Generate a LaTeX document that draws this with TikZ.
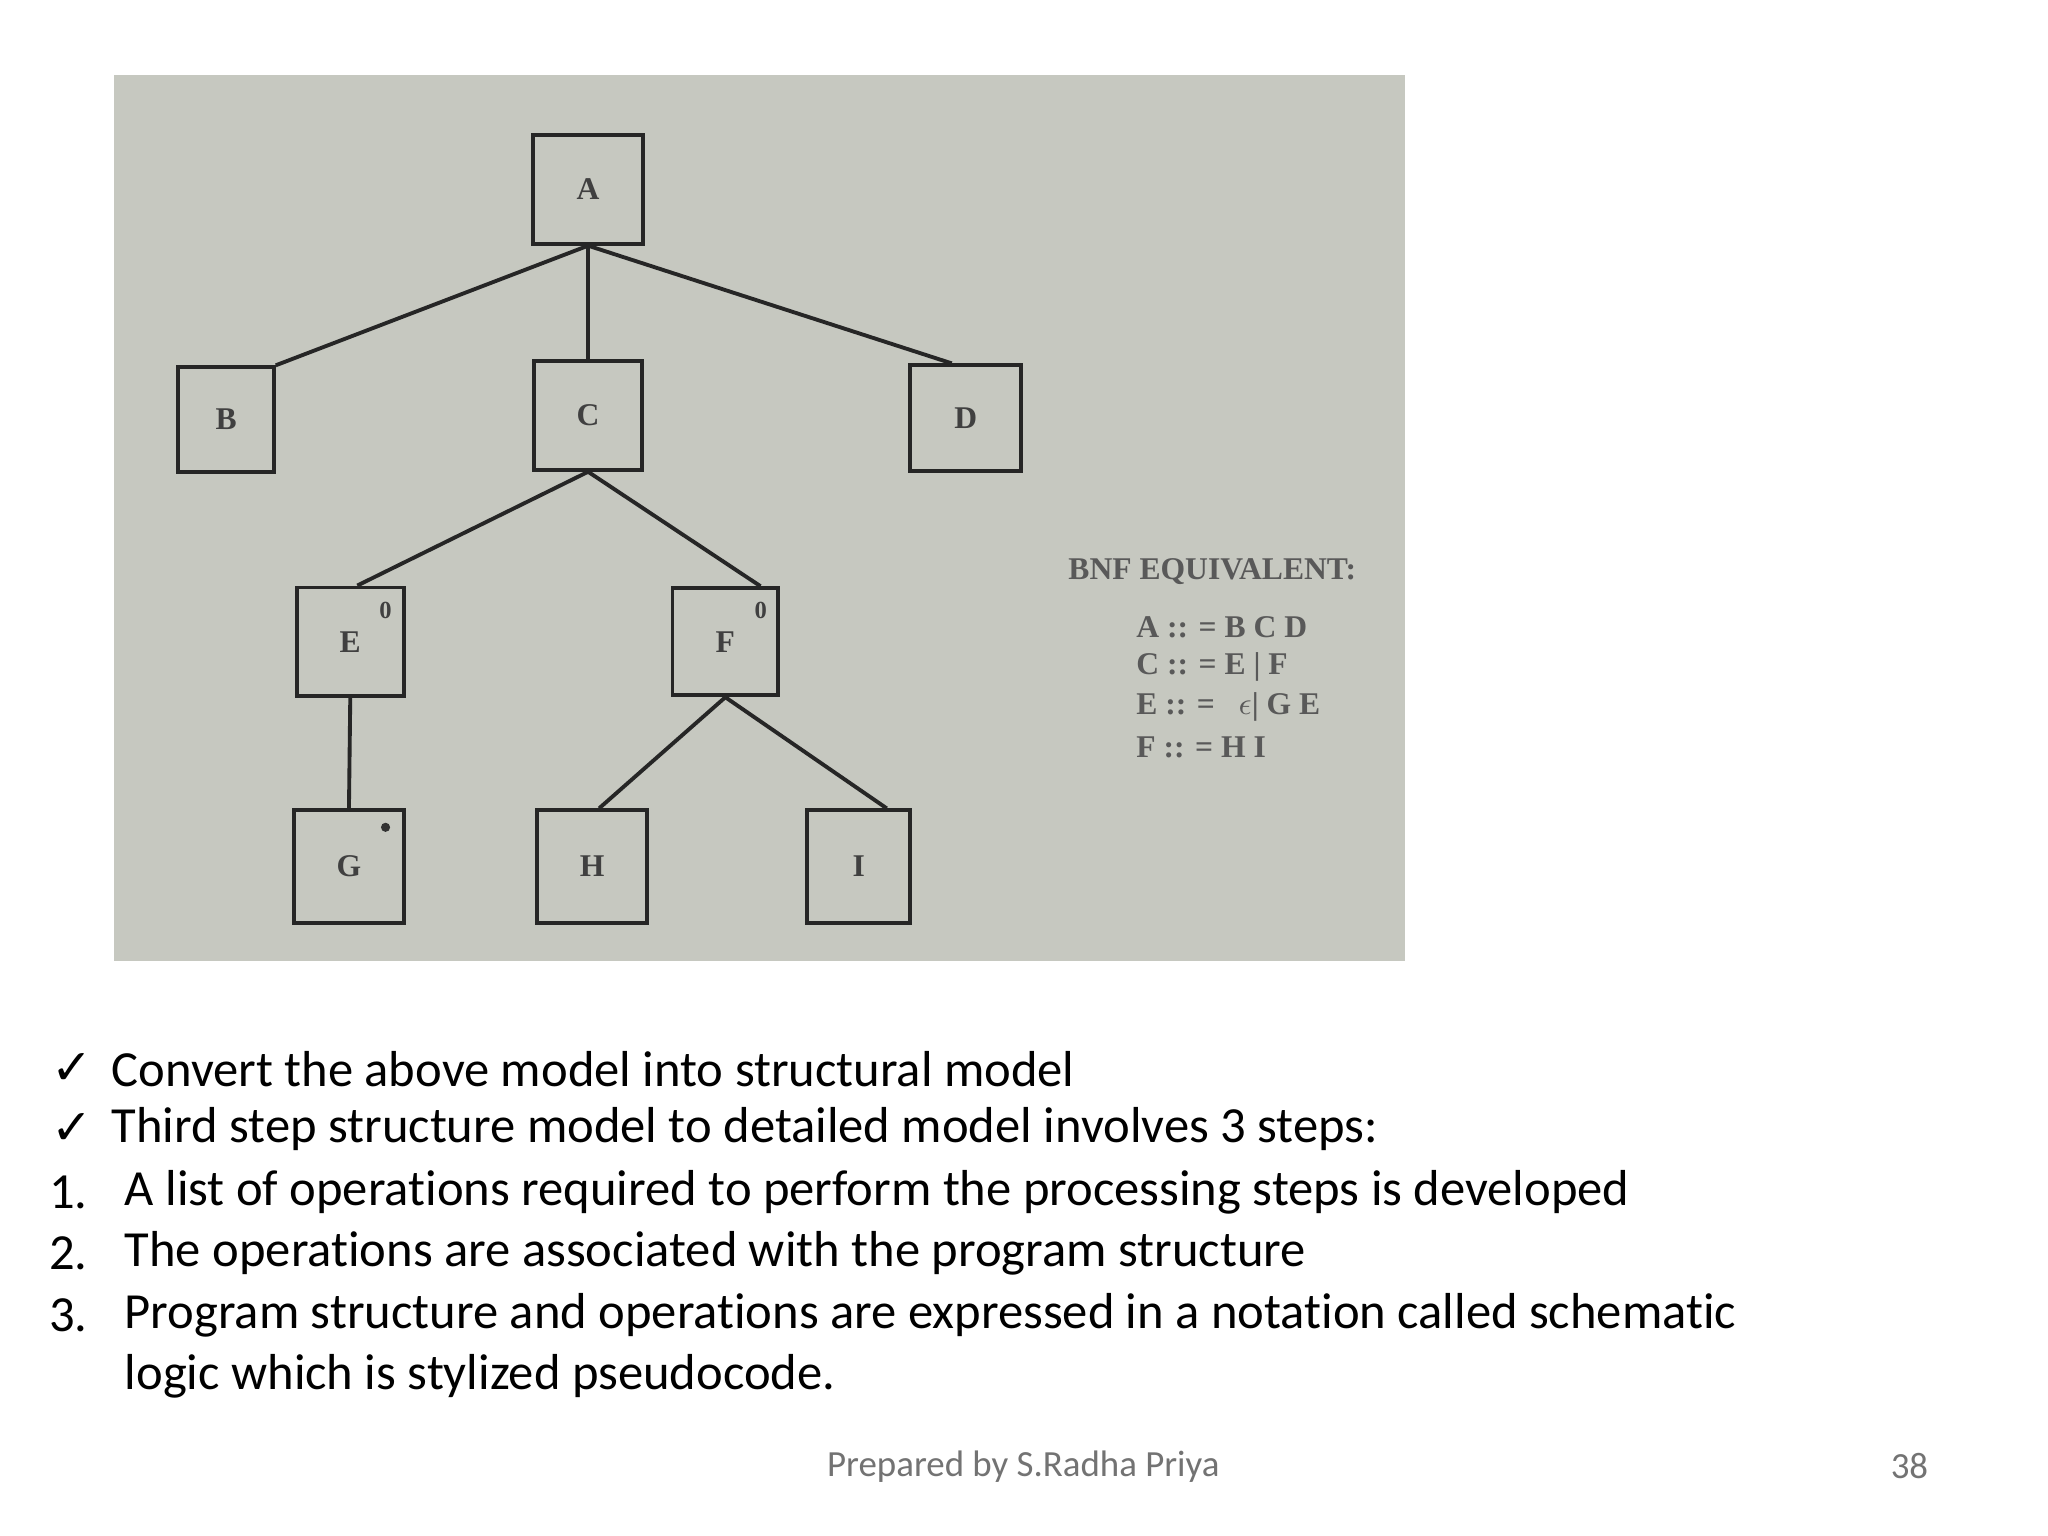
\documentclass[tikz,border=0pt]{standalone}
\usepackage{fontspec}
\setmainfont[Ligatures=NoCommon]{Carlito}
\newfontfamily\dejavu{DejaVu Sans}
\newfontfamily\serifbox{Liberation Serif}
\begin{document}
\begin{tikzpicture}[x=0.01307cm,y=-0.01307cm,
  bx/.style={draw=black!85,line width=1.1pt,inner sep=0pt,font=\serifbox\small\bfseries,text=black!75},
  ln/.style={draw=black!85,line width=1.1pt},
  bnf/.style={anchor=west,font=\serifbox\small\bfseries,text=black!65},
  txt/.style={anchor=west,font=\fontsize{14.4}{17}\selectfont,text=black}]
\useasboundingbox (0,0) rectangle (1567,1175);
\fill[white] (0,0) rectangle (1567,1175);
\fill[color={rgb,255:red,198;green,200;blue,192}] (87,57) rectangle (1075,735);
\node[bx,minimum width=84*0.01307cm,minimum height=83*0.01307cm] (A) at (450,145) {A};
\node[bx,minimum width=73*0.01307cm,minimum height=80*0.01307cm] (B) at (173,321) {B};
\node[bx,minimum width=83*0.01307cm,minimum height=83*0.01307cm] (C) at (450,318) {C};
\node[bx,minimum width=85*0.01307cm,minimum height=81*0.01307cm] (D) at (739,320) {D};
\node[bx,minimum width=82*0.01307cm,minimum height=83*0.01307cm] (E) at (268,491) {E};
\node[bx,minimum width=81*0.01307cm,minimum height=82*0.01307cm] (F) at (555,491) {F};
\node[bx,minimum width=84*0.01307cm,minimum height=86*0.01307cm] (G) at (267,663) {G};
\node[bx,minimum width=84*0.01307cm,minimum height=86*0.01307cm] (H) at (453,663) {H};
\node[bx,minimum width=79*0.01307cm,minimum height=86*0.01307cm] (I) at (657,663) {I};
\node[font=\serifbox\scriptsize\bfseries,text=black!75] (e0) at (295,467) {0};
\node[font=\serifbox\scriptsize\bfseries,text=black!75] (f0) at (582,467) {0};
\fill[black!80] (295,633) circle (3.5);
\draw[ln] (A.south) -- (B.north east);
\draw[ln] (A.south) -- (C.north);
\draw[ln] (A.south) -- ([xshift=-4]D.north);
\draw[ln] (C.south) -- ([xshift=2]E.north);
\draw[ln] (C.south) -- ([xshift=10]F.north);
\draw[ln] (E.south) -- (G.north);
\draw[ln] (F.south) -- ([xshift=2]H.north);
\draw[ln] (F.south) -- ([xshift=8]I.north);
\node[bnf] (bt) at (808,437) {BNF EQUIVALENT:};
\node[bnf] (b1) at (860,480) {A :: = B C D};
\node[bnf] (b2) at (860,510) {C :: = E | F};
\node[bnf] (b3) at (860,541) {E :: = \ \ $\epsilon$| G E};
\node[bnf] (b4) at (860,572) {F :: = H I};
\node[anchor=west,font=\dejavu\bfseries\fontsize{14}{15}\selectfont] (c1) at (30,818) {✓};
\node[anchor=west,font=\dejavu\bfseries\fontsize{14}{15}\selectfont] (c2) at (30,864) {✓};
\node[txt] (t1) at (76,818) {Convert the above model into structural model};
\node[txt] (t2) at (76,864) {Third step structure model to detailed model involves 3 steps:};
\node[txt] (n1) at (28,912) {1.};
\node[txt] (n2) at (28,959) {2.};
\node[txt] (n3) at (28,1006) {3.};
\node[txt] (t3) at (86,912) {A list of operations required to perform the processing steps is developed};
\node[txt] (t4) at (86,959) {The operations are associated with the program structure};
\node[txt] (t5) at (86,1006) {Program structure and operations are expressed in a notation called schematic};
\node[txt] (t6) at (86,1053) {logic which is stylized pseudocode.};
\node[font=\fontsize{10.5}{12}\selectfont,text=black!55] (ft) at (783,1122) {Prepared by S.Radha Priya};
\node[font=\fontsize{10.5}{12}\selectfont,text=black!55] (pg) at (1461,1122) {38};
\end{tikzpicture}
\end{document}
